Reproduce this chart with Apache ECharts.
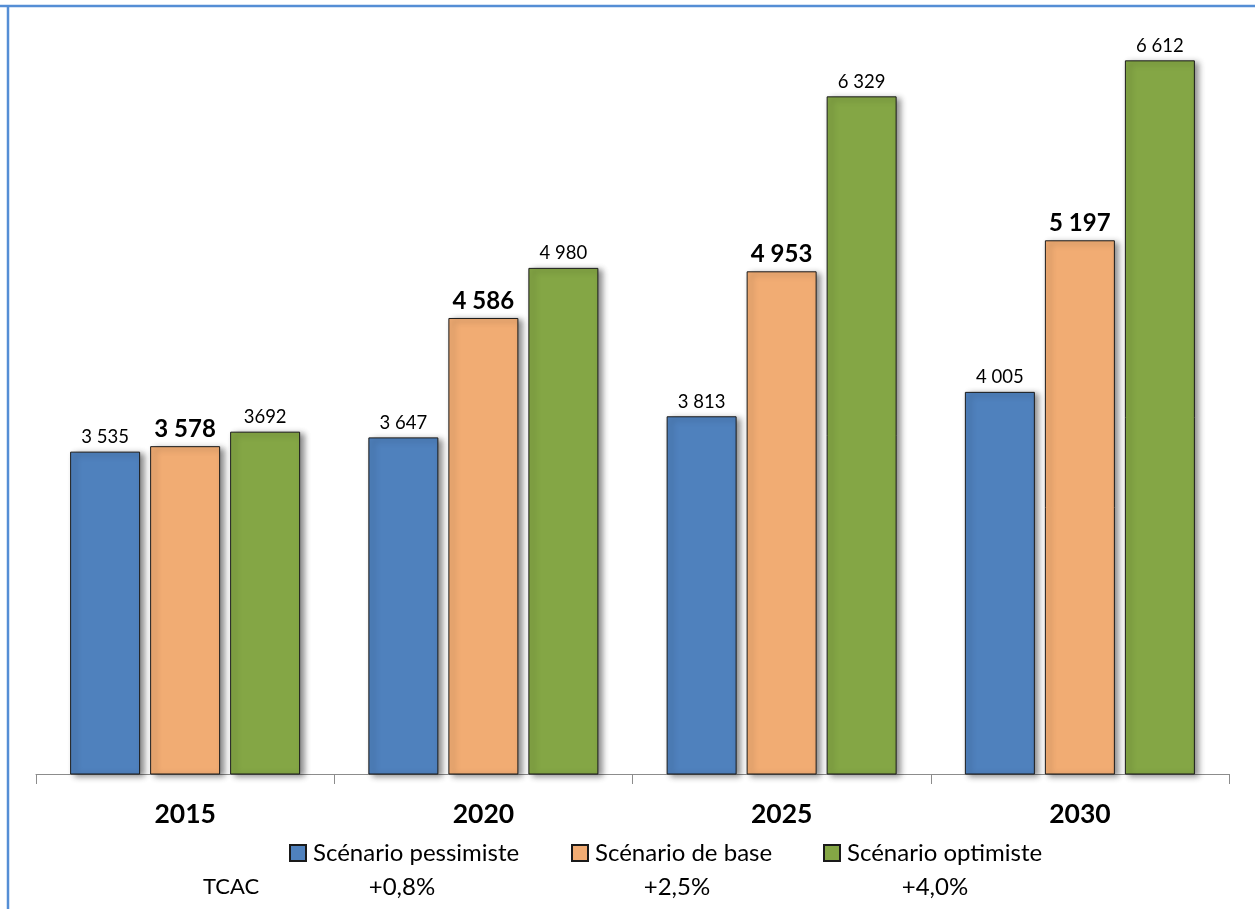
<!DOCTYPE html>
<html>
<head>
<meta charset="utf-8">
<script src="https://cdn.jsdelivr.net/npm/echarts@6/dist/echarts.min.js"></script>
<style>
html,body{margin:0;padding:0;background:#fff;}
#c{width:1255px;height:909px;}
</style>
</head>
<body>
<div id="c"></div>
<script>
const categories = ['2015', '2020', '2025', '2030'];
const seriesNames = ['Scénario pessimiste', 'Scénario de base', 'Scénario optimiste'];
const pessimiste = [3535, 3647, 3813, 4005];
const base = [3578, 4586, 4953, 5197];
const optimiste = [3692, 4980, 6329, 6612];
const labelsPessimiste = ['3 535', '3 647', '3 813', '4 005'];
const labelsBase = ['3 578', '4 586', '4 953', '5 197'];
const labelsOptimiste = ['3692', '4 980', '6 329', '6 612'];
const tcacLabel = 'TCAC';
const tcacValues = ['+0,8%', '+2,5%', '+4,0%'];

const FONT = 'Lato, "Open Sans", sans-serif';
const colors = ['#4F81BD', '#F1AC73', '#84A645'];

const chart = echarts.init(document.getElementById('c'), null, {renderer: 'canvas'});

function barSeries(name, data, labels, color, bold) {
  return {
    name: name,
    type: 'bar',
    data: data,
    barWidth: 70,
    barGap: '14.3%',
    itemStyle: {
      color: color,
      borderColor: '#1a1a1a',
      borderWidth: 1,
      shadowColor: 'rgba(0,0,0,0.45)',
      shadowBlur: 6,
      shadowOffsetX: 4,
      shadowOffsetY: 2
    },
    label: {
      show: true,
      position: 'top',
      distance: 5,
      color: '#000',
      fontFamily: FONT,
      fontSize: bold ? 24 : 18.5,
      fontWeight: bold ? 'bold' : 'normal',
      formatter: p => labels[p.dataIndex]
    },
    emphasis: {disabled: true}
  };
}

function legendAt(name, left) {
  return {
    data: [name],
    left: left,
    top: 841,
    padding: 0,
    itemWidth: 16,
    itemHeight: 16,
    itemGap: 0,
    icon: 'rect',
    textStyle: {fontFamily: FONT, fontSize: 24, color: '#000', padding: [0, 0, 0, 2]},
    selectedMode: false
  };
}

const tcacX = [402, 677, 935];

const option = {
  animation: false,
  backgroundColor: '#fff',
  grid: {left: 36, right: 26, top: 11, bottom: 135, containLabel: false},
  xAxis: {
    type: 'category',
    data: categories,
    boundaryGap: true,
    axisLine: {show: true, lineStyle: {color: '#8c8c8c', width: 1}},
    axisTick: {show: true, length: 10, alignWithLabel: false, lineStyle: {color: '#8c8c8c'}},
    axisLabel: {
      color: '#000', fontFamily: FONT, fontSize: 26.5, fontWeight: 'bold', margin: 27
    }
  },
  yAxis: {
    type: 'value',
    min: 1000,
    max: 7000,
    interval: 1000,
    show: false,
    splitLine: {show: false}
  },
  legend: [
    legendAt(seriesNames[0], 289),
    legendAt(seriesNames[1], 571),
    legendAt(seriesNames[2], 823)
  ],
  series: [
    barSeries(seriesNames[0], pessimiste, labelsPessimiste, colors[0], false),
    barSeries(seriesNames[1], base, labelsBase, colors[1], true),
    barSeries(seriesNames[2], optimiste, labelsOptimiste, colors[2], false)
  ],
  graphic: [
    {type: 'line', shape: {x1: 0, y1: 6, x2: 1255, y2: 6}, style: {stroke: '#558ED5', lineWidth: 2.5}},
    {type: 'line', shape: {x1: 8, y1: 5, x2: 8, y2: 909}, style: {stroke: '#558ED5', lineWidth: 2.5}},
    {type: 'text', x: 231, y: 887, style: {text: tcacLabel, fontFamily: FONT, fontSize: 22, fill: '#000', align: 'center', verticalAlign: 'middle'}}
  ].concat(tcacValues.map((t, i) => ({
    type: 'text', x: tcacX[i], y: 887,
    style: {text: t, fontFamily: FONT, fontSize: 24, fill: '#000', align: 'center', verticalAlign: 'middle'}
  })))
};

chart.setOption(option);
</script>
</body>
</html>
